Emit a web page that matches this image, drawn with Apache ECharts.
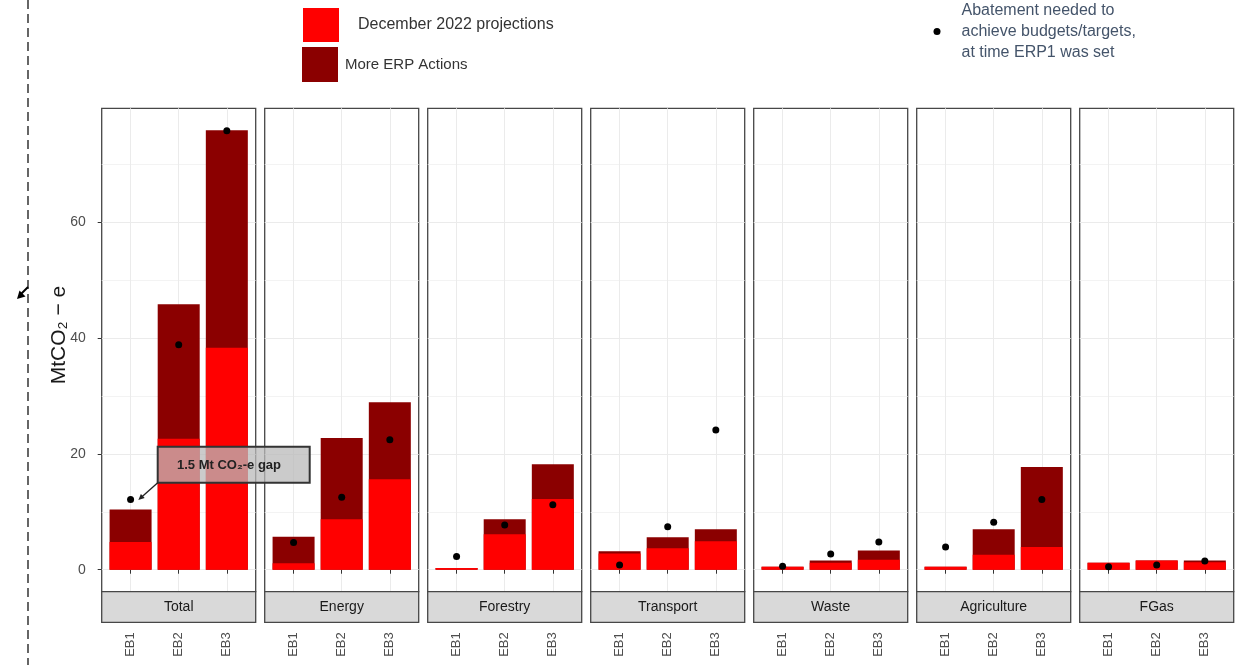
<!DOCTYPE html>
<html>
<head>
<meta charset="utf-8">
<script src="https://cdn.jsdelivr.net/npm/echarts@6/dist/echarts.min.js"></script>
<style>
html,body{margin:0;padding:0;background:#fff;}
#chart{width:1243px;height:665px;}
</style>
</head>
<body>
<div id="chart"></div>
<script>
// 各部门数据（MtCO2-e）
var sectors = ['Total', 'Energy', 'Forestry', 'Transport', 'Waste', 'Agriculture', 'FGas'];
var budgets = ['EB1', 'EB2', 'EB3'];
// December 2022 projections, one row per sector
var decProjections = [
	[4.8, 22.6, 38.3],
	[1.1, 8.7, 15.6],
	[0.3, 6.1, 12.2],
	[2.8, 3.7, 4.9],
	[0.5, 1.2, 1.7],
	[0.5, 2.6, 3.9],
	[1.2, 1.6, 1.3]
];
// More ERP Actions (stacked on top)
var moreActions = [
	[5.6, 23.2, 37.5],
	[4.6, 14.0, 13.3],
	[0, 2.6, 6.0],
	[0.4, 1.9, 2.1],
	[0, 0.4, 1.6],
	[0, 4.4, 13.8],
	[0, 0, 0.3]
];
// Abatement needed (black dots)
var abatementNeeded = [
	[12.1, 38.8, 75.7],
	[4.7, 12.5, 22.4],
	[2.3, 7.7, 11.2],
	[0.8, 7.4, 24.1],
	[0.6, 2.7, 4.8],
	[3.9, 8.2, 12.1],
	[0.5, 0.8, 1.5]
];
var yTicks = [0, 20, 40, 60];
var yMinorTicks = [10, 30, 50, 70];

var NAME_PROJ = 'December 2022 projections';
var NAME_MORE = 'More ERP Actions';
var NAME_NEED = 'Abatement needed to\nachieve budgets/targets,\nat time ERP1 was set';

// 面板布局
var PANEL_LEFT = 101.7, PANEL_STEP = 163, PANEL_W = 154;
var PANEL_TOP = 108.3, PANEL_H = 483.4, STRIP_H = 30.6;
var FONT = 'Liberation Sans, Arial, sans-serif';

// y 轴范围：ggplot 默认 5% 扩展
var dataMax = 0;
for (var i = 0; i < sectors.length; i++) {
	for (var j = 0; j < budgets.length; j++) {
		dataMax = Math.max(dataMax, decProjections[i][j] + moreActions[i][j], abatementNeeded[i][j]);
	}
}
var yMin = -0.05 * dataMax, yMax = dataMax * 1.05;

var grids = [], xAxes = [], yAxes = [], series = [], graphics = [];

function pairs(row) {
	return row.map(function (v, j) { return [j + 1, v]; });
}
// 堆叠：深红柱画到两段之和，红柱叠在下面一段
function stackedTop(a, b) {
	return a.map(function (v, j) { return v + b[j]; });
}

for (var i = 0; i < sectors.length; i++) {
	var left = PANEL_LEFT + i * PANEL_STEP;
	grids.push({
		left: left, top: PANEL_TOP, width: PANEL_W, height: PANEL_H,
		show: true, borderColor: '#474747', borderWidth: 1.3, backgroundColor: '#fff'
	});
	xAxes.push({
		gridIndex: i, type: 'value', min: 0.4, max: 3.6,
		offset: STRIP_H,
		axisLine: {show: false},
		axisTick: {show: true, customValues: [1, 2, 3], length: 4, lineStyle: {color: '#333'}},
		axisLabel: {
			customValues: [1, 2, 3], rotate: 90, margin: 10,
			color: '#4d4d4d', fontSize: 13, fontFamily: FONT,
			formatter: function (v) { return budgets[Math.round(v) - 1]; }
		},
		splitLine: {show: true, lineStyle: {color: '#ebebeb', width: 1}}
	});
	yAxes.push({
		gridIndex: i, type: 'value', min: yMin, max: yMax,
		axisLine: {show: false},
		axisTick: {show: i === 0, customValues: yTicks, length: 4, lineStyle: {color: '#333'}},
		axisLabel: {show: i === 0, customValues: yTicks, margin: 16, color: '#4d4d4d', fontSize: 14, fontFamily: FONT},
		splitLine: {show: true, lineStyle: {color: '#ebebeb', width: 1}}
	});
	// 次网格线
	yAxes.push({
		gridIndex: i, type: 'value', min: yMin, max: yMax, position: 'left',
		axisLine: {show: false},
		axisTick: {show: false, customValues: yMinorTicks},
		axisLabel: {show: false},
		splitLine: {show: true, lineStyle: {color: '#f0f0f0', width: 0.8}}
	});

	series.push({
		type: 'bar', name: NAME_MORE, xAxisIndex: i, yAxisIndex: 2 * i,
		barWidth: 42, barGap: '-100%',
		itemStyle: {color: '#8b0000'},
		emphasis: {disabled: true},
		data: pairs(stackedTop(decProjections[i], moreActions[i]))
	});
	series.push({
		type: 'bar', name: NAME_PROJ, xAxisIndex: i, yAxisIndex: 2 * i,
		barWidth: 42, barGap: '-100%',
		itemStyle: {color: '#ff0000'},
		emphasis: {disabled: true},
		data: pairs(decProjections[i])
	});
	series.push({
		type: 'scatter', name: NAME_NEED, xAxisIndex: i, yAxisIndex: 2 * i,
		symbolSize: 7, z: 5,
		itemStyle: {color: '#000', opacity: 1},
		emphasis: {disabled: true},
		data: pairs(abatementNeeded[i])
	});

	// 分面标题条
	graphics.push({
		type: 'rect', z: 10,
		shape: {x: left, y: PANEL_TOP + PANEL_H, width: PANEL_W, height: STRIP_H},
		style: {fill: '#d9d9d9', stroke: '#474747', lineWidth: 1.3}
	});
	graphics.push({
		type: 'text', z: 11,
		x: left + PANEL_W / 2, y: PANEL_TOP + PANEL_H + STRIP_H / 2,
		style: {text: sectors[i], align: 'center', verticalAlign: 'middle', fill: '#1a1a1a', font: '14px ' + FONT}
	});
}

// y 轴标题
graphics.push({
	type: 'text', z: 11, x: 59, y: 335, rotation: Math.PI / 2,
	style: {text: 'MtCO₂ − e', align: 'center', verticalAlign: 'middle', fill: '#1a1a1a', font: '21px ' + FONT}
});
// 左侧虚线和箭头
graphics.push({
	type: 'line', z: 11,
	shape: {x1: 28, y1: 0, x2: 28, y2: 665},
	style: {stroke: '#000', lineWidth: 1.2, lineDash: [9, 5]}
});
graphics.push({
	type: 'line', z: 11,
	shape: {x1: 28, y1: 287, x2: 21, y2: 294},
	style: {stroke: '#000', lineWidth: 2}
});
graphics.push({
	type: 'polygon', z: 11,
	shape: {points: [[17, 299], [25.5, 296.5], [19.5, 290.5]]},
	style: {fill: '#000'}
});
// 注释框
graphics.push({
	type: 'rect', z: 20,
	shape: {x: 157.7, y: 446.7, width: 152, height: 36},
	style: {fill: 'rgba(185,185,185,0.75)', stroke: '#333', lineWidth: 2}
});
graphics.push({
	type: 'text', z: 21, x: 229, y: 465,
	style: {text: '1.5 Mt CO₂-e gap', align: 'center', verticalAlign: 'middle', fill: '#222', font: 'bold 13px ' + FONT}
});
graphics.push({
	type: 'line', z: 21,
	shape: {x1: 157.7, y1: 482.7, x2: 142, y2: 496.7},
	style: {stroke: '#222', lineWidth: 1.3}
});
graphics.push({
	type: 'polygon', z: 21,
	shape: {points: [[138.3, 500], [144.7, 498.1], [140.9, 493.9]]},
	style: {fill: '#222'}
});

var option = {
	animation: false,
	backgroundColor: '#fff',
	legend: [
		{
			data: [NAME_PROJ], left: 303, top: 8, padding: 0,
			itemWidth: 36, itemHeight: 34, icon: 'rect', selectedMode: false,
			textStyle: {fontSize: 16, color: '#333', fontFamily: FONT, padding: [12, 0, 0, 14]}
		},
		{
			data: [NAME_MORE], left: 302, top: 47, padding: 0,
			itemWidth: 36, itemHeight: 35, icon: 'rect', selectedMode: false,
			textStyle: {fontSize: 15, color: '#333', fontFamily: FONT, padding: [8, 0, 0, 2]}
		},
		{
			data: [NAME_NEED], left: 933.5, top: 0, padding: 0,
			itemWidth: 7, itemHeight: 7, icon: 'circle', selectedMode: false,
			textStyle: {fontSize: 16, lineHeight: 21, color: '#44546a', fontFamily: FONT, padding: [0, 0, 0, 16]}
		}
	],
	grid: grids,
	xAxis: xAxes,
	yAxis: yAxes,
	series: series,
	graphic: graphics
};

var chart = echarts.init(document.getElementById('chart'));
chart.setOption(option);
</script>
</body>
</html>
